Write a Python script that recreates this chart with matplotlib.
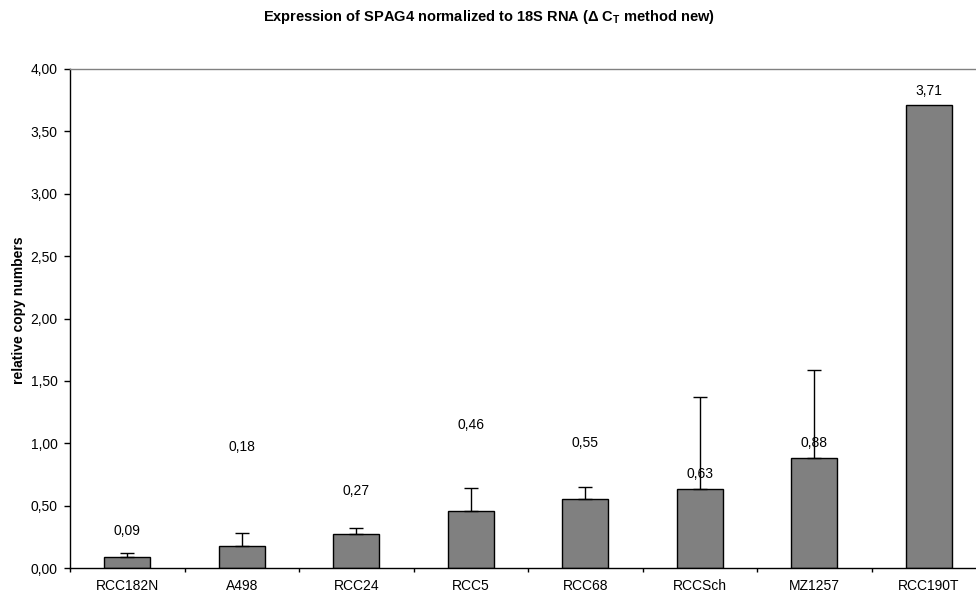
import matplotlib
matplotlib.use("Agg")
import matplotlib.pyplot as plt
import numpy as np

categories = ["RCC182N", "A498", "RCC24", "RCC5", "RCC68", "RCCSch", "MZ1257", "RCC190T"]
values = [0.09, 0.18, 0.27, 0.46, 0.55, 0.63, 0.88, 3.71]
err_upper = [0.033, 0.098, 0.053, 0.181, 0.099, 0.738, 0.707, 0.0]
value_labels = ["0,09", "0,18", "0,27", "0,46", "0,55", "0,63", "0,88", "3,71"]
# vertical placement of the data labels (as in the original chart)
label_y = [0.297, 0.967, 0.617, 1.146, 1.0, 0.753, 1.0, 3.826]
yticks = [0.0, 0.5, 1.0, 1.5, 2.0, 2.5, 3.0, 3.5, 4.0]
ytick_labels = ["0,00", "0,50", "1,00", "1,50", "2,00", "2,50", "3,00", "3,50", "4,00"]

plt.rcParams['font.family'] = ['Liberation Sans', 'DejaVu Sans']
plt.rcParams['mathtext.fontset'] = 'custom'
plt.rcParams['mathtext.rm'] = 'Liberation Sans'
plt.rcParams['mathtext.bf'] = 'Liberation Sans:bold'

fig = plt.figure(figsize=(9.76, 5.94), dpi=100)
ax = fig.add_axes([70/976, 1-568/594, 8*114.5/976, (568-69)/594])

x = np.arange(len(categories))
ax.bar(x, values, width=0.4, color="#808080", edgecolor="black", linewidth=1, zorder=2)
yerr = np.array([np.zeros(len(values)), err_upper])
mask = np.array(err_upper) > 0
ax.errorbar(x[mask], np.array(values)[mask], yerr=yerr[:, mask], fmt="none",
            ecolor="black", elinewidth=1, capsize=4.8, capthick=1, zorder=3)

for xi, yl, lab in zip(x, label_y, value_labels):
    ax.text(xi, yl, lab, ha="center", va="center", fontsize=10, zorder=4)

ax.set_xlim(-0.5, len(categories) - 0.5)
ax.set_ylim(0, 4.0)
ax.set_yticks(yticks)
ax.set_yticklabels(ytick_labels, fontsize=10)
ax.set_xticks(x)
ax.set_xticklabels(categories, fontsize=10)
ax.set_xticks(np.arange(len(categories) + 1) - 0.5, minor=True)
ax.tick_params(axis="x", which="major", length=0, pad=8)
ax.tick_params(axis="x", which="minor", length=3.2, width=1, direction="out")
ax.tick_params(axis="y", length=4.5, width=1, direction="out", pad=4.5)

for s in ["left", "bottom"]:
    ax.spines[s].set_color("black")
    ax.spines[s].set_linewidth(1)
for s in ["top", "right"]:
    ax.spines[s].set_color("#808080")
    ax.spines[s].set_linewidth(1)

fig.text(19.5/976, 1 - 310/594, "relative copy numbers", rotation=90,
         ha="center", va="center", fontsize=10, fontweight="bold")

fig.text(489/976, 1 - 21/594,
         r"Expression of SPAG4 normalized to 18S RNA ($\mathbf{\Delta}$ $\mathbf{C_T}$ method new)",
         ha="center", va="baseline", fontsize=10.5, fontweight="bold")

fig.savefig("out.png", dpi=100)
